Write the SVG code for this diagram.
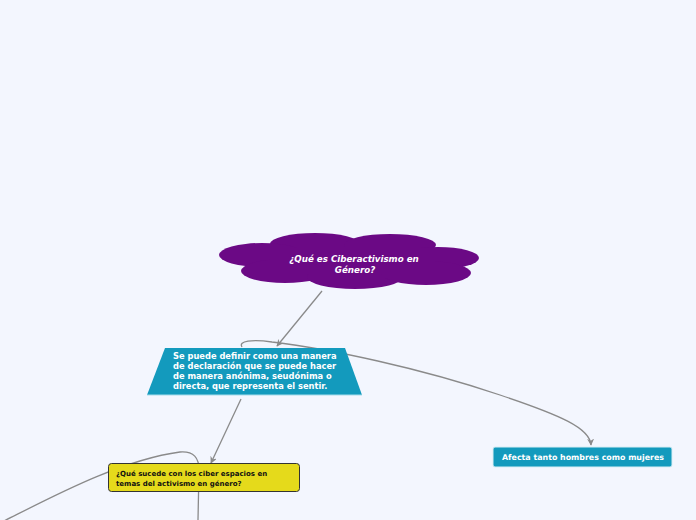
<svg xmlns="http://www.w3.org/2000/svg" width="696" height="520" viewBox="0 0 696 520">
<style>
.conn{fill:none;stroke:#8a8a8a;stroke-width:1.3}
.wt{fill:#ffffff;font-family:"DejaVu Sans",Verdana,sans-serif;font-weight:bold}
</style>
<defs>
<marker id="arr" viewBox="0 0 10 10" refX="9" refY="5" markerWidth="7" markerHeight="7" orient="auto" markerUnits="userSpaceOnUse">
<path d="M0,0 L10,5 L0,10 L3,5 z" fill="#8a8a8a"/>
</marker>
</defs>
<rect width="696" height="520" fill="#f3f6fe"/>
<g id="connectors">
<path class="conn" d="M322,291 L277,346" marker-end="url(#arr)"/>
<path class="conn" d="M242,347 C238,341 252,339 272,342 C330,349 420,368 500,395 C560,415 590,428 591,445" marker-end="url(#arr)"/>
<path class="conn" d="M241,399 L211,463" marker-end="url(#arr)"/>
<path class="conn" d="M2,522 C50,498 120,460 180,452 C194,451 199,458 199,470 L198,520"/>
</g>
<g id="cloud">
<g fill="#6b0985">
<ellipse cx="315" cy="244" rx="45" ry="11"/>
<ellipse cx="390" cy="245" rx="46" ry="11"/>
<ellipse cx="262" cy="255" rx="43" ry="12"/>
<ellipse cx="438" cy="258" rx="41" ry="11"/>
<ellipse cx="285" cy="271" rx="44" ry="12"/>
<ellipse cx="355" cy="277" rx="48" ry="12"/>
<ellipse cx="426" cy="273" rx="45" ry="12"/>
<rect x="270" y="248" width="165" height="26"/>
</g>
<text class="wt" font-style="italic" font-size="8.7" text-anchor="middle" x="354" y="262">¿Qué es Ciberactivismo en</text>
<text class="wt" font-style="italic" font-size="8.7" text-anchor="middle" x="355" y="273">Género?</text>
</g>
<g id="definicion">
<polygon points="165,348 345,348 362,395 147,395" fill="#139abd"/>
<line x1="147" y1="395" x2="362" y2="395" stroke="#a8dcea" stroke-width="1"/>
<text class="wt" font-size="8.3" x="173" y="359">Se puede definir como una manera</text>
<text class="wt" font-size="8.3" x="173" y="369">de declaración que se puede hacer</text>
<text class="wt" font-size="8.3" x="173" y="379">de manera anónima, seudónima o</text>
<text class="wt" font-size="8.3" x="173" y="389">directa, que representa el sentir.</text>
</g>
<g id="afecta">
<rect x="493" y="447" width="179" height="20" rx="2" fill="#139abd" stroke="#d8eef5" stroke-width="1"/>
<text class="wt" font-size="7.9" text-anchor="middle" x="583" y="460">Afecta tanto hombres como mujeres</text>
</g>
<g id="pregunta">
<rect x="108.5" y="463.5" width="191" height="28" rx="3" fill="#e5da1b" stroke="#333333" stroke-width="1"/>
<text font-family="DejaVu Sans,Verdana,sans-serif" font-weight="bold" font-size="7" fill="#111" x="116" y="476">¿Qué sucede con los ciber espacios en</text>
<text font-family="DejaVu Sans,Verdana,sans-serif" font-weight="bold" font-size="7" fill="#111" x="116" y="486">temas del activismo en género?</text>
</g>
</svg>
